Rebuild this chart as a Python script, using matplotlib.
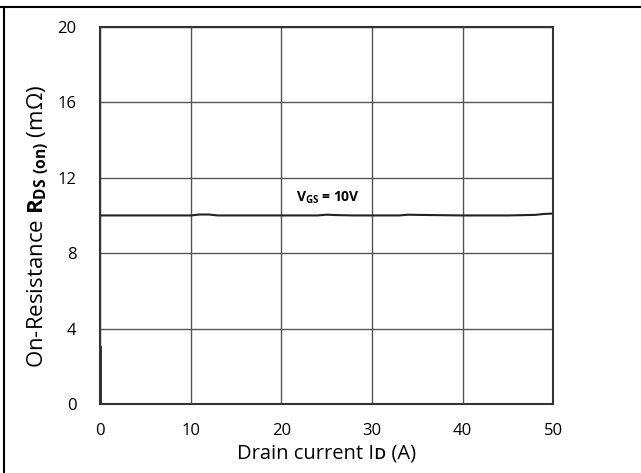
import matplotlib.pyplot as plt
from matplotlib.lines import Line2D

plt.rcParams['font.family'] = ['Open Sans', 'DejaVu Sans']
plt.rcParams['mathtext.fontset'] = 'custom'
plt.rcParams['mathtext.rm'] = 'Open Sans'
plt.rcParams['mathtext.bf'] = 'Open Sans:bold'

# RDS(on) vs drain current at VGS = 10V
drain_current = [0, 5, 10, 11, 12, 13, 20, 24, 25, 26, 28, 30, 33, 34, 35, 40, 45, 47, 48, 49, 50]
rds_on = [10.0, 10.0, 10.0, 10.05, 10.05, 10.0, 10.0, 10.0, 10.04, 10.02, 10.0, 10.0, 10.0, 10.04, 10.03, 10.0, 10.0, 10.02, 10.03, 10.08, 10.1]

# spurious trace at the origin
start_x = [0, 0, 50]
start_y = [3, 0, 0]

x_ticks = [0, 10, 20, 30, 40, 50]
y_ticks = [0, 4, 8, 12, 16, 20]

fig = plt.figure(figsize=(6.41, 4.73), dpi=100)
ax = fig.add_axes([0.156, 0.146, 0.707, 0.797])

ax.plot(drain_current, rds_on, color='#222222', lw=1.5)
ax.plot(start_x, start_y, color='#222222', lw=2)

ax.set_xlim(0, 50)
ax.set_ylim(0, 20)
ax.set_xticks(x_ticks)
ax.set_yticks(y_ticks)
ax.grid(True, color='#555555', lw=1)
ax.tick_params(length=0, labelsize=12)
ax.tick_params(axis='x', pad=14)
ax.tick_params(axis='y', pad=17)
for s in ax.spines.values():
    s.set_color('#333333')
    s.set_linewidth(1.5)

ax.set_xlabel('Drain current I\u1d05 (A)', fontsize=14.5, labelpad=3)
ax.set_ylabel('On-Resistance $\\mathbf{R}_{\\mathbf{DS\\ (on)}}$ (m\u03a9)', fontsize=16)
ax.yaxis.set_label_coords(-0.11, 0.47)

ax.text(21.6, 10.95, '$\\mathbf{V}_{\\mathbf{GS}}$ = 10V', fontsize=10, fontweight='bold', va='center')

# outer frame lines
fig.add_artist(Line2D([0, 1], [0.986, 0.986], transform=fig.transFigure, color='black', lw=1.5))
fig.add_artist(Line2D([0.007, 0.007], [0, 0.986], transform=fig.transFigure, color='black', lw=1.5))

fig.savefig('out.png', dpi=100)
